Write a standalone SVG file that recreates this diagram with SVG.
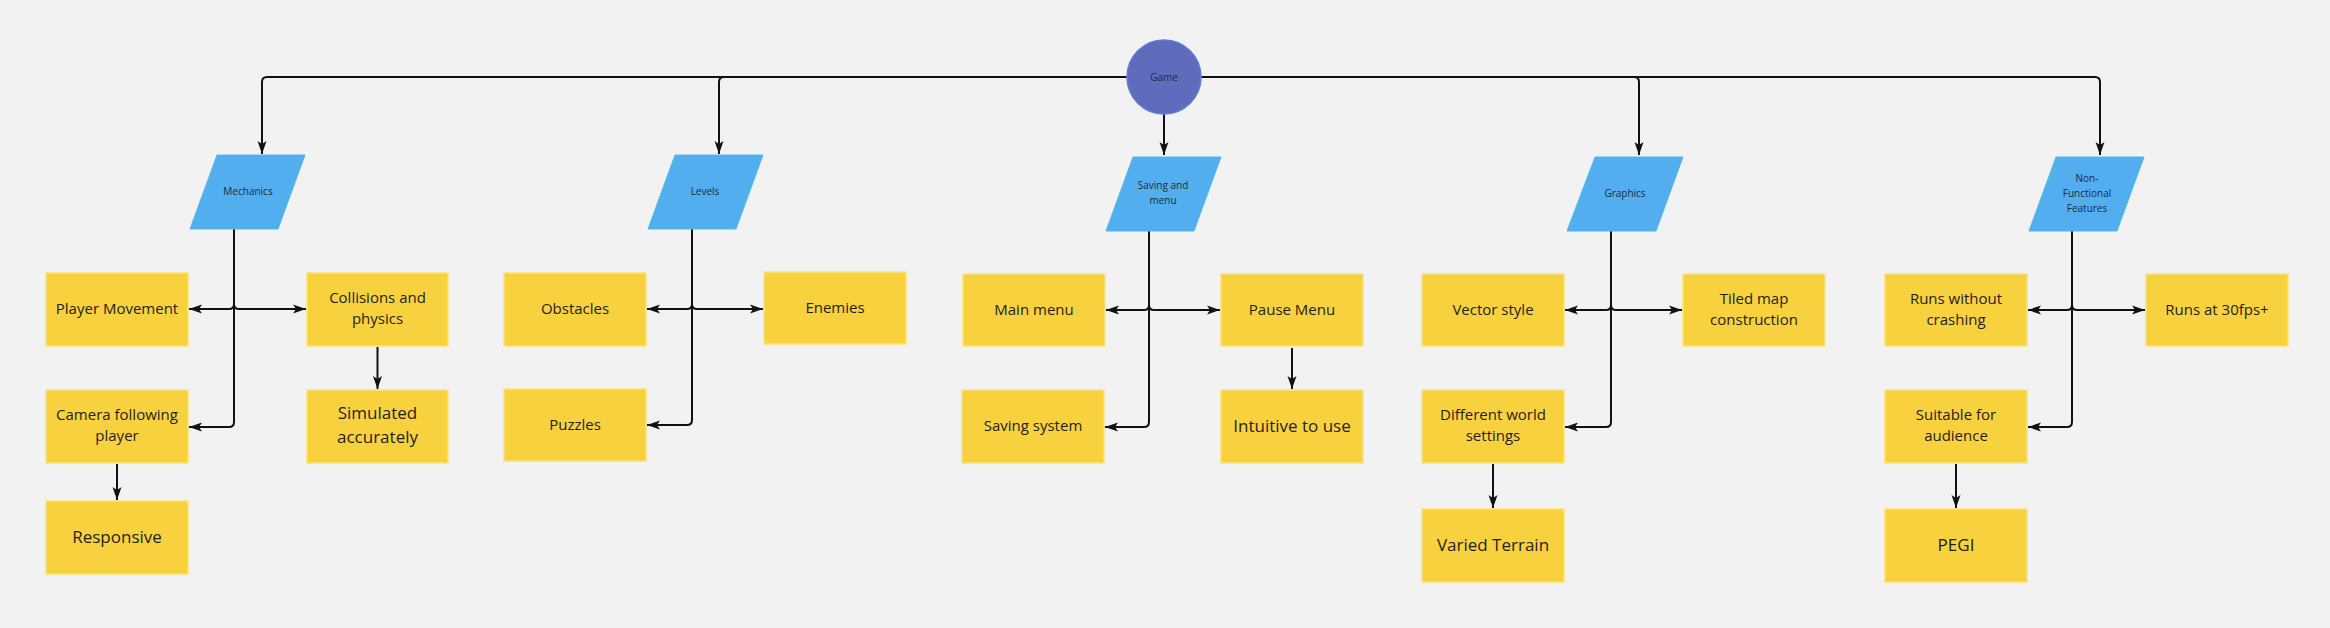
<svg xmlns="http://www.w3.org/2000/svg" width="2330" height="628" viewBox="0 0 2330 628">
<defs>
<marker id="ah" markerUnits="userSpaceOnUse" markerWidth="14" markerHeight="10" viewBox="0 0 14 10" refX="13" refY="5" orient="auto">
<path d="M0,0.5 L13,5 L0,9.5 L3,5 z" fill="#111"/>
</marker>
<style>
.box{fill:#f8d13e;stroke:#fbe27a;stroke-width:1.5}
.cat{fill:#52aeee;stroke:#4fb8ec;stroke-width:1}
.t{font-family:"Open Sans","Liberation Sans",sans-serif;font-size:15px;fill:#1f1f1f;text-anchor:middle}
.tb{font-family:"Open Sans","Liberation Sans",sans-serif;font-size:17px;fill:#1f1f1f;text-anchor:middle}
.ts{font-family:"Open Sans","Liberation Sans",sans-serif;font-size:10px;fill:#1f2a3a;text-anchor:middle}
.c{fill:none;stroke:#111;stroke-width:2;marker-end:url(#ah)}
</style>
</defs>
<rect width="2330" height="628" fill="#f2f2f2"/>

<g id="connectors">
<path class="c" d="M1127,77 H267 Q262,77 262,82 V154"/>
<path class="c" d="M1127,77 H724 Q719,77 719,82 V154"/>
<path class="c" d="M1164,114 V155"/>
<path class="c" d="M1201,77 H1634 Q1639,77 1639,82 V155"/>
<path class="c" d="M1201,77 H2095 Q2100,77 2100,82 V155"/>

<path class="c" d="M234,229 V304 Q234,309 229,309 H189"/>
<path class="c" d="M234,229 V304 Q234,309 239,309 H306"/>
<path class="c" d="M234,229 V422 Q234,427 229,427 H189"/>
<path class="c" d="M377.5,347 V389"/>
<path class="c" d="M117,464 V500"/>

<path class="c" d="M692,229 V304 Q692,309 687,309 H647"/>
<path class="c" d="M692,229 V304 Q692,309 697,309 H763"/>
<path class="c" d="M692,229 V420 Q692,425 687,425 H647"/>

<path class="c" d="M1149,231 V305 Q1149,310 1144,310 H1106"/>
<path class="c" d="M1149,231 V305 Q1149,310 1154,310 H1220"/>
<path class="c" d="M1149,231 V422 Q1149,427 1144,427 H1105"/>
<path class="c" d="M1292,348 V389"/>

<path class="c" d="M1611,231 V305 Q1611,310 1606,310 H1565"/>
<path class="c" d="M1611,231 V305 Q1611,310 1616,310 H1682"/>
<path class="c" d="M1611,231 V422 Q1611,427 1606,427 H1565"/>
<path class="c" d="M1493,464 V508"/>

<path class="c" d="M2072,231 V305 Q2072,310 2067,310 H2028"/>
<path class="c" d="M2072,231 V305 Q2072,310 2077,310 H2145"/>
<path class="c" d="M2072,231 V422 Q2072,427 2067,427 H2028"/>
<path class="c" d="M1956,464 V508"/>
</g>

<g id="game">
<circle cx="1164" cy="77" r="37" fill="#616bbd" stroke="#5a7fd6" stroke-width="1.5"/>
<text class="ts" x="1164" y="80.5" fill="#2a2d4a">Game</text>
</g>

<g id="mechanics">
<polygon class="cat" points="217,155 305,155 278,229 190,229"/>
<text class="ts" x="248" y="195">Mechanics</text>
</g>
<g id="levels">
<polygon class="cat" points="675,155 763,155 736,229 648,229"/>
<text class="ts" x="705" y="195">Levels</text>
</g>
<g id="saving-and-menu">
<polygon class="cat" points="1133,157 1221,157 1194,231 1106,231"/>
<text class="ts" x="1163" y="189">Saving and</text>
<text class="ts" x="1163" y="204">menu</text>
</g>
<g id="graphics">
<polygon class="cat" points="1595,157 1683,157 1656,231 1567,231"/>
<text class="ts" x="1625" y="197">Graphics</text>
</g>
<g id="non-functional">
<polygon class="cat" points="2056,157 2144,157 2117,231 2029,231"/>
<text class="ts" x="2087" y="182">Non-</text>
<text class="ts" x="2087" y="197">Functional</text>
<text class="ts" x="2087" y="212">Features</text>
</g>

<g id="player-movement">
<rect class="box" x="46" y="273" width="142" height="73"/>
<text class="t" x="117" y="314">Player Movement</text>
</g>
<g id="collisions">
<rect class="box" x="307" y="273" width="141" height="73"/>
<text class="t" x="377.5" y="303">Collisions and</text>
<text class="t" x="377.5" y="324">physics</text>
</g>
<g id="camera">
<rect class="box" x="46" y="390" width="142" height="73"/>
<text class="t" x="117" y="420">Camera following</text>
<text class="t" x="117" y="441">player</text>
</g>
<g id="simulated">
<rect class="box" x="307" y="390" width="141" height="73"/>
<text class="tb" x="377.5" y="419">Simulated</text>
<text class="tb" x="377.5" y="443">accurately</text>
</g>
<g id="responsive">
<rect class="box" x="46" y="501" width="142" height="73"/>
<text class="tb" x="117" y="543">Responsive</text>
</g>

<g id="obstacles">
<rect class="box" x="504" y="273" width="142" height="73"/>
<text class="t" x="575" y="314">Obstacles</text>
</g>
<g id="enemies">
<rect class="box" x="764" y="272" width="142" height="72"/>
<text class="t" x="835" y="313">Enemies</text>
</g>
<g id="puzzles">
<rect class="box" x="504" y="389" width="142" height="72"/>
<text class="t" x="575" y="430">Puzzles</text>
</g>

<g id="main-menu">
<rect class="box" x="963" y="274" width="142" height="72"/>
<text class="t" x="1034" y="315">Main menu</text>
</g>
<g id="pause-menu">
<rect class="box" x="1221" y="274" width="142" height="72"/>
<text class="t" x="1292" y="315">Pause Menu</text>
</g>
<g id="saving-system">
<rect class="box" x="962" y="390" width="142" height="73"/>
<text class="t" x="1033" y="431">Saving system</text>
</g>
<g id="intuitive">
<rect class="box" x="1221" y="390" width="142" height="73"/>
<text class="tb" x="1292" y="432">Intuitive to use</text>
</g>

<g id="vector-style">
<rect class="box" x="1422" y="274" width="142" height="72"/>
<text class="t" x="1493" y="315">Vector style</text>
</g>
<g id="tiled-map">
<rect class="box" x="1683" y="274" width="142" height="72"/>
<text class="t" x="1754" y="304">Tiled map</text>
<text class="t" x="1754" y="325">construction</text>
</g>
<g id="different-world">
<rect class="box" x="1422" y="390" width="142" height="73"/>
<text class="t" x="1493" y="420">Different world</text>
<text class="t" x="1493" y="441">settings</text>
</g>
<g id="varied-terrain">
<rect class="box" x="1422" y="509" width="142" height="73"/>
<text class="tb" x="1493" y="551">Varied Terrain</text>
</g>

<g id="runs-without-crashing">
<rect class="box" x="1885" y="274" width="142" height="72"/>
<text class="t" x="1956" y="304">Runs without</text>
<text class="t" x="1956" y="325">crashing</text>
</g>
<g id="runs-30fps">
<rect class="box" x="2146" y="274" width="142" height="72"/>
<text class="t" x="2217" y="315">Runs at 30fps+</text>
</g>
<g id="suitable">
<rect class="box" x="1885" y="390" width="142" height="73"/>
<text class="t" x="1956" y="420">Suitable for</text>
<text class="t" x="1956" y="441">audience</text>
</g>
<g id="pegi">
<rect class="box" x="1885" y="509" width="142" height="73"/>
<text class="tb" x="1956" y="551">PEGI</text>
</g>
</svg>
